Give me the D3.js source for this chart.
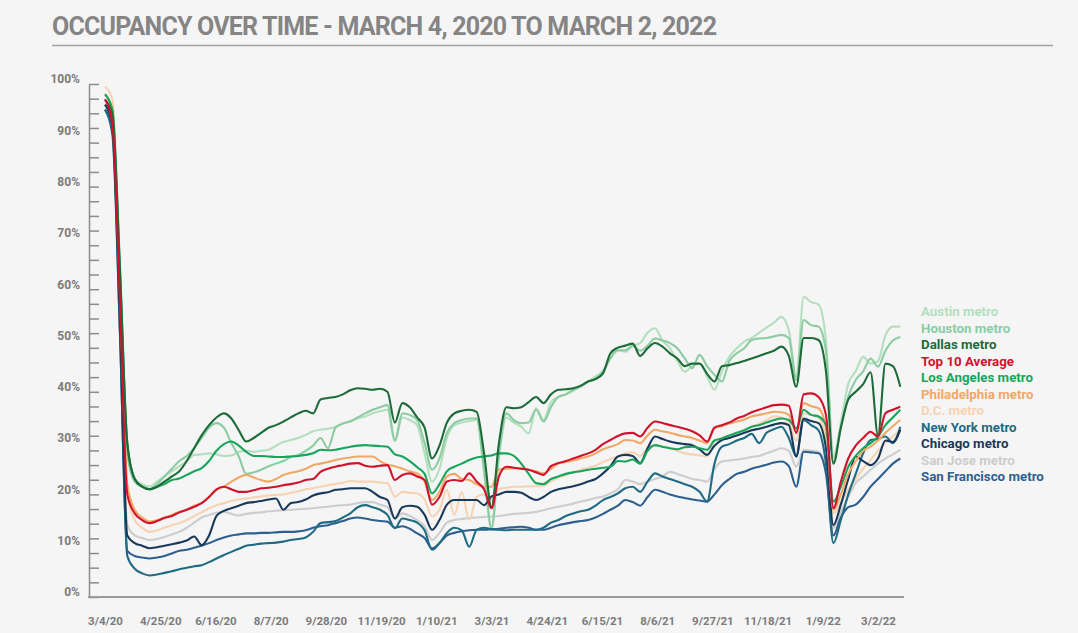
<!DOCTYPE html>
<html><head><meta charset="utf-8">
<script src="https://cdn.jsdelivr.net/npm/d3@7"></script>
<style>
html,body{margin:0;padding:0;background:#f5f5f5;}
svg{display:block;font-family:Roboto,"Liberation Sans",sans-serif;}
</style></head><body>
<svg id="chart" width="1078" height="633"></svg>
<script>
// ---------- DATA ----------
const title = "OCCUPANCY OVER TIME - MARCH 4, 2020 TO MARCH 2, 2022";
const firstWeek = "3/4/20";           // weekly readings, one per week from this date
const xTickLabels = ["3/4/20","4/25/20","6/16/20","8/7/20","9/28/20","11/19/20","1/10/21","3/3/21","4/24/21","6/15/21","8/6/21","9/27/21","11/18/21","1/9/22","3/2/22"];
const yTickValues = [0,10,20,30,40,50,60,70,80,90,100];
const seriesNames = ["Austin metro","Houston metro","Dallas metro","Top 10 Average","Los Angeles metro","Philadelphia metro","D.C. metro","New York metro","Chicago metro","San Jose metro","San Francisco metro"];

const austin = [96,93,62,28,23,22,21.5,22.5,23.5,24.5, 25.5,26.5,27.7,27.8,28,27.8,27.5,27.6,28.3,28.5, 28.3,28.5,28.7,29.5,30.2,30.6,31,31.6,32.3,32.6, 32.8,33.2,33.8,34.3,34.8,35.2,35.8,36.2,36.5,30.3, 35,34.5,33.5,28,22.5,25,31,33.5,34,34.3, 34.5,24,13,27,35,34,33.2,31.9,36.8,34.5, 38,39,39.5,40.2,41,42,43,44,46.5,48.1, 47.8,49,49.5,51.5,52.4,50,48.5,46,43.9,45, 45.5,43,40.4,44,46.8,48.5,49.8,50.5,51.5,52.5, 53.5,54.6,52,43,58.5,57.5,57,50,27.4,34, 41.6,44,46.8,45.5,46,51,52.7,52.7];
const houston = [96,93,62,28,22.5,21.5,21,22,23.5,25, 26.5,27.5,29,31,33,33.9,33,30,27.4,24, 24.3,24.8,25.5,26,26.5,27.3,27.7,28.5,29.5,31, 29,33,33.8,34.2,35,35.8,36.5,37,37.4,30.6, 35.8,35.5,34.5,30,24.8,27,32,33.9,34.5,34.8, 34.8,25,13.5,28,35.8,34.5,33.9,34,36.5,34.2, 37,39,39.5,40.4,41,42,42.5,44,46.5,48.1, 48.1,49,48,49,50.4,50,49.5,48.5,46.5,44.6, 47.2,45,43.3,42,46,47.5,48.5,50.1,50.4,50.5, 50.8,51.1,50.5,42.3,54,53,52.7,48,26.4,33, 39,42.3,44,46.5,44.9,48,50,50.7];
const dallas = [97,94,64,30,23,21.5,21,21.5,22.5,23.5, 24.5,26.5,29,31.5,33.5,35,35.8,34.8,32.5,30.3, 31,32,33,33.5,34.2,35,35.8,36.3,35.8,38.5, 38.8,39,39.5,40.3,40.7,40.6,40.4,40.6,40,34, 37.8,37,35,33,27,29.5,34,35.8,36.3,36.5, 36.1,28,17.5,30,37,36.8,37,38,39,37.8, 39.5,40.4,40.5,40.7,41.2,42,42.5,43.6,47.5,48.6, 49,49.4,47,48.5,49.5,48.8,47.5,46.5,45,45.5, 45.5,43.5,42,45,45.2,45.6,46,46.5,47,47.5, 48,48.8,47,41,50.5,50.5,50.1,44,26,33, 38.5,40,41.5,43.8,31.5,45.5,45,41];
const top10Average = [97,92,58,20,16.3,15,14.4,14.8,15.4,15.8, 16.5,17,17.6,18.3,19.5,21,21.5,21,20.5,20.5, 20.8,21.2,21.3,21.5,21.8,22,22.3,22.8,23,24.4, 25,25.4,25.7,26,26.1,25.6,25.4,25.6,25.7,22.8, 23.8,24.1,23.5,22.8,18,19.5,22.5,22.8,22.6,24.1, 22.5,21,17.3,23.5,25.4,25.2,25,24.8,24.3,23.8, 25.5,26.1,26.5,27,27.5,28,28.7,29.8,30.6,31.4, 31.9,32,31.3,33,34.2,33.9,33.5,33.2,32.8,32.3, 31.5,30.3,33,33.5,34,34.8,35.3,36,36.5,37, 37.4,37.5,37.3,32,39.5,39.7,39,35.5,17.3,22.5, 27,29.5,31,32.2,31.3,35.8,36.5,37.1];
const losAngeles = [98,95,65,30,23,21.5,21,21.5,22,22.8, 23.1,23.8,24.5,25.1,26.5,28.5,29.8,30.3,29.5,28.3, 27.5,27.5,27.4,27.3,27.3,27.4,27.5,27.7,28,28.7, 28.6,28.7,29,29.3,29.5,29.6,29.5,29.4,29.3,27.8, 27.4,26.5,25.3,24,20.2,22,24.5,25.4,26,26.7, 27.2,27.4,27.6,28,28,27.5,26,24,22.2,22, 23,23.5,24,24.3,24.5,24.8,25,25.2,25.4,26.5, 26.4,26.8,26,28.5,29.6,29.3,29,28.8,29.2,29.3, 29,28.7,30.5,30.9,31.5,32,32.5,33.2,33.5,34, 34.5,34.8,34.5,32.9,36.5,35.5,35.2,33.5,18.6,21.5, 25.4,27.5,29,30,31.3,33.5,35,36.5];
const philadelphia = [98,95,60,22,17,15.5,14.7,15,15.5,16, 16.6,17,17.8,18.3,19.5,20.9,21.5,22.5,23.3,23.8, 23.3,22.8,22.5,23,23.8,24.2,24.5,25,25.7,26, 26.3,26.7,27,27.2,27.4,27.4,27.4,26.5,25.8,25.5, 25,24.5,24.1,22.5,18.9,20.5,23.5,24,23,22.8, 22,21.5,21.5,24.8,25,25.1,25.1,24.8,24.5,24.1, 25,26,26.3,26.6,27,27.4,28,28.8,29.3,29.8, 30.6,30.5,30,31.5,32.6,32.3,32,31.6,31.3,31, 30.5,30,32.9,33.3,33.8,34.2,34.6,35.2,35.5,35.8, 36.1,36,35.5,32.2,37.8,37.2,36.8,33,17,20, 24,26.5,28.5,29.3,30.5,32,33.3,34.5];
const dc = [99.5,97,62,20,15,13.5,12.7,13,13.5,14, 14.4,15,15.8,16.5,17.3,17.9,18.3,18.7,19,19.2, 19.4,19.6,19.8,19.9,20,20.3,20.6,21,21.2,21.5, 21.8,22,22.3,22.6,22.5,22.5,22.5,22.3,22.2,19.6, 20.5,20.3,20.2,19,15.7,17,20.9,16,20.5,15, 19.5,20,19,21,21.3,21.5,21.5,21.6,21.6,21.7, 22.5,23.3,23.8,24.3,24.8,25.2,25.6,26.3,26.9,27.4, 28,28.2,27.5,29,29.5,29.3,29,28.5,28,27.8, 27.6,27.4,30.5,31,31.5,32,32.5,33.2,33.8,34.5, 35.2,35,34,30.5,35.8,35.5,35,31,16.3,18.5, 21,23,25,26.7,28.5,30,31.3,32.6];
const newYork = [95,91,52,8,5.5,4.6,4.2,4.4,4.7,5, 5.4,5.7,6,6.2,6.8,7.5,8.2,8.8,9.4,10, 10.2,10.4,10.5,10.6,10.8,11.1,11.3,11.6,12.7,14.4, 14.6,14.8,15.5,16.3,17.5,17.9,17.5,17,16,13.4, 15.3,15,14.5,13,9.2,10.5,12.5,13.5,13,9.8, 13.1,13.5,13.2,13.1,13,13.1,13.1,13.1,13.1,13.5, 14.5,15,15.8,16.3,16.7,17,17.8,18.9,19.5,20.2, 21.2,21.5,20.5,22.5,24.1,23.5,23,22.5,22,21.5, 20.5,18.6,26,29.3,29.8,30.5,31,31.8,30,32, 32.7,33.2,31,27.4,34.5,33.5,32.5,26,10.5,15, 20,24,28,30.6,30.8,31.3,30,33.2];
const chicago = [96,92,55,12,10.5,10,9.5,9.7,10,10.3, 10.6,11,11.8,10.1,12,15.8,16.8,17.3,17.8,18.3, 18.5,18.7,19,19.2,17,18.3,18.5,19,19.8,20.2, 20.4,20.9,21,21.2,21.2,21.2,20.5,19.5,18.9,15.3, 17.5,17.8,17.6,16,13.1,15,18,18.9,18.9,18.9, 18.9,17.9,19.6,20,20.5,20.5,20.3,19.5,18.9,19.5, 20.5,21,21.3,21.6,22,22.5,23,24.1,25.5,27.4, 27.7,27.5,26.1,29,31.3,30.8,30.3,30,29.8,29.6, 28.8,27.7,29.5,30.6,31,31.5,32,32.5,32.8,33.2, 33.6,33.9,33.5,27.4,34.8,34.3,33.9,29,14,18, 23,27.4,26.5,25.7,27,30.5,30.2,32.6];
const sanJose = [95,91,56,14,12,11.5,11.1,11.3,11.7,12.2, 12.7,13.5,14.5,15.5,16,16.4,16.6,16.2,15.9,16.2, 16.4,16.5,16.7,16.8,16.9,17,17.1,17.2,17.3,17.5, 17.6,17.8,17.9,18,18.3,18.5,18.5,18,17.5,15.2, 16.3,15.8,15,13.8,11.1,12.5,14.5,15,15.2,15.4, 15.5,15.6,15.7,15.8,16,16.2,16.3,16.4,16.6,16.9, 17.3,17.6,17.9,18.2,18.6,18.9,19.3,19.6,20.2,21, 22.8,22.5,22,22.5,23,23.5,24.4,24,23.5,23, 22.8,22.5,25,26.4,26.6,26.8,27,27.3,27.5,28, 28.5,29,28.5,25.4,28.7,28.5,28.3,25,13.4,16.5, 19.5,22.2,23.5,24.8,26,27,27.8,28.7];
const sanFrancisco = [95,90,52,9,8,7.7,7.5,7.7,8,8.5, 9,9.2,9.6,10,10.5,11.1,11.6,12,12.2,12.4, 12.4,12.5,12.5,12.6,12.7,12.7,12.8,13,13.5,13.8, 14,14.4,14.8,15.3,15.5,15.3,15,14.8,14.7,13.5, 13.8,13.3,12.4,11.5,9.5,10.5,12,12.5,12.8,13, 13.1,13.1,13.2,13.3,13.5,13.6,13.7,13.5,13.1,13.1, 13.5,14,14.3,14.6,14.8,15,15.5,16.2,17,17.8, 18.9,18.5,17.8,19.5,20.9,20.5,20,19.6,19.3,19, 18.8,18.6,20,21.8,23,24,24.4,25,25.4,25.8, 26.2,26.4,25.5,21.5,28.3,28.2,28,24,12,15.5, 17.5,18,19.5,21.5,23,24.5,26,27];

const seriesValues = [austin,houston,dallas,top10Average,losAngeles,philadelphia,dc,newYork,chicago,sanJose,sanFrancisco];

// ---------- STYLE ----------
const colors = ["#b3dfbf","#8ccca3","#1d6b38","#d0132c","#17a55b","#f1a866","#f6d3b2","#1f6b84","#19395a","#cdcdcd","#2d5f8f"];
const drawOrder = [9,6,0,1,10,7,8,5,4,2,3];

const svg = d3.select("#chart");
const parse = d3.timeParse("%m/%d/%y");
const start = parse(firstWeek);
const nWeeks = austin.length;
const weekDates = d3.range(nWeeks).map(i => d3.timeDay.offset(start, 7 * i));

const x = d3.scaleTime().domain([parse(xTickLabels[0]), parse(xTickLabels[xTickLabels.length - 1])]).range([105, 878]);
const y = d3.scaleLinear().domain([0, 100]).range([597, 84]);

// Title
const t = svg.append("text").attr("x", 52).attr("y", 35)
  .attr("font-size", 25).attr("font-weight", 700).attr("fill", "#858585")
  .text(title);
const tl = t.node().getComputedTextLength();
t.attr("letter-spacing", ((665 - tl) / (title.length - 1)).toFixed(3) + "px");
svg.append("line").attr("x1", 52).attr("x2", 1053).attr("y1", 45.5).attr("y2", 45.5)
  .attr("stroke", "#a3a3a3").attr("stroke-width", 1.5);

// Y axis (minor ticks)
const minorTicks = d3.range(36).map(i => i * 100 / 35);
const yAxisG = svg.append("g").attr("transform", "translate(89,0)")
  .call(d3.axisRight(y).tickValues(minorTicks).tickSize(10).tickSizeOuter(0).tickFormat(""));
yAxisG.selectAll("path,line").attr("stroke", "#8c8c8c").attr("stroke-width", 1.5);

// Y labels
const yLabG = svg.append("g").attr("transform", "translate(89,-5)")
  .call(d3.axisLeft(y).tickValues(yTickValues).tickSize(0).tickPadding(9).tickFormat(d => d + "%"));
yLabG.select(".domain").remove();
yLabG.selectAll("text").attr("font-family", "Roboto").attr("font-size", 12).attr("font-weight", 700).attr("fill", "#7b7b7b");

// X axis
const xAxisG = svg.append("g").attr("transform", "translate(0,597)")
  .call(d3.axisBottom(x).tickValues(xTickLabels.map(parse)).tickSize(0).tickPadding(20).tickFormat(d3.timeFormat("%-m/%-d/%y")));
xAxisG.select(".domain").remove();
xAxisG.selectAll("text").attr("font-family", "Roboto").attr("font-size", 11.5).attr("font-weight", 700).attr("fill", "#7b7b7b");
svg.append("line").attr("x1", 88).attr("x2", 904).attr("y1", 597).attr("y2", 597)
  .attr("stroke", "#9a9a9a").attr("stroke-width", 2);

// Lines
const line = d3.line().x((d, i) => x(weekDates[i])).y(d => y(d)).curve(d3.curveMonotoneX);
const linesG = svg.append("g");
drawOrder.forEach(k => {
  linesG.append("path").datum(seriesValues[k])
    .attr("d", line).attr("fill", "none")
    .attr("stroke", colors[k]).attr("stroke-width", 2.1)
    .attr("stroke-linejoin", "round");
});

// Legend
const legG = svg.append("g");
seriesNames.forEach((n, i) => {
  legG.append("text").attr("x", 921).attr("y", 316.4 + 16.5 * i)
    .attr("font-size", 13.3).attr("font-weight", 700).attr("fill", colors[i]).text(n);
});
</script>
</body></html>
